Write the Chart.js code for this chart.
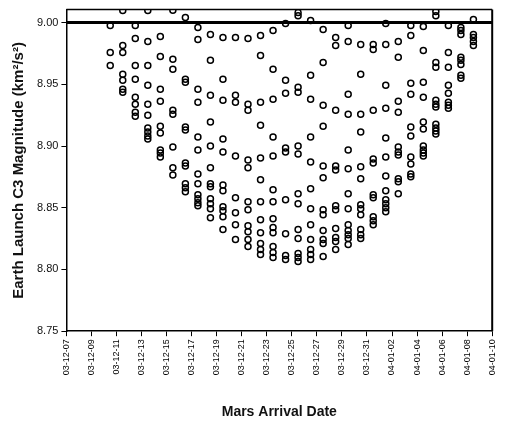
<!DOCTYPE html>
<html>
<head>
<meta charset="utf-8">
<script src="https://cdn.jsdelivr.net/npm/chart.js@4.4.0/dist/chart.umd.min.js"></script>
<style>
  html, body { margin: 0; padding: 0; background: #fff; }
  #wrap { width: 506px; height: 425px; }
</style>
</head>
<body>
<div id="wrap"><canvas id="c3Chart" width="506" height="425"></canvas></div>
<script>
// arrival day, counted in days after 03-12-07 (each column is noon of one day)
let arrivalDays = [3.5, 4.5, 5.5, 6.5, 7.5, 8.5, 9.5, 10.5, 11.5, 12.5,
                   13.5, 14.5, 15.5, 16.5, 17.5, 18.5, 19.5, 20.5, 21.5, 22.5,
                   23.5, 24.5, 25.5, 26.5, 27.5, 28.5, 29.5, 30.5, 31.5, 32.5];

// launch C3 (km^2/s^2) for every launch date that reaches Mars on that day
let c3Values = [
  [8.9976, 8.9758, 8.9653],
  [9.0097, 8.9815, 8.9758, 8.9581, 8.9532, 8.9460, 8.9435],
  [8.9976, 8.9871, 8.9653, 8.9540, 8.9395, 8.9339, 8.9274, 8.9242],
  [9.0097, 8.9847, 8.9653, 8.9492, 8.9339, 8.9250, 8.9145, 8.9113, 8.9081, 8.9056],
  [8.9887, 8.9726, 8.9460, 8.9363, 8.9161, 8.9105, 8.8968, 8.8944, 8.8911],
  [9.0100, 8.9702, 8.9621, 8.9290, 8.9258, 8.8992, 8.8823, 8.8766],
  [9.0040, 8.9540, 8.9516, 8.9153, 8.9129, 8.8863, 8.8839, 8.8694, 8.8661, 8.8629],
  [8.9960, 8.9863, 8.9460, 8.9355, 8.9073, 8.8968, 8.8774, 8.8694, 8.8605, 8.8573, 8.8540, 8.8516],
  [8.9903, 8.9694, 8.9411, 8.9194, 8.9000, 8.8823, 8.8694, 8.8669, 8.8573, 8.8532, 8.8492, 8.8419],
  [8.9879, 8.9540, 8.9371, 8.9056, 8.8952, 8.8685, 8.8637, 8.8508, 8.8476, 8.8427, 8.8323],
  [8.9879, 8.9411, 8.9355, 8.8919, 8.8581, 8.8460, 8.8363, 8.8242],
  [8.9871, 8.9339, 8.9290, 8.8887, 8.8823, 8.8548, 8.8484, 8.8355, 8.8306, 8.8242, 8.8185],
  [8.9895, 8.9734, 8.9355, 8.9169, 8.8903, 8.8726, 8.8548, 8.8403, 8.8298, 8.8210, 8.8161, 8.8121],
  [8.9935, 8.9621, 8.9379, 8.9073, 8.8919, 8.8645, 8.8548, 8.8411, 8.8339, 8.8298, 8.8185, 8.8137, 8.8097],
  [8.9992, 8.9532, 8.9427, 8.8984, 8.8952, 8.8565, 8.8290, 8.8113, 8.8081],
  [9.0081, 9.0056, 8.9476, 8.9435, 8.9000, 8.8935, 8.8613, 8.8532, 8.8323, 8.8250, 8.8129, 8.8097, 8.8065],
  [9.0016, 8.9573, 8.9379, 8.9073, 8.8871, 8.8653, 8.8492, 8.8363, 8.8242, 8.8161, 8.8121, 8.8081],
  [8.9944, 8.9677, 8.9331, 8.9161, 8.8839, 8.8742, 8.8484, 8.8444, 8.8315, 8.8242, 8.8210, 8.8105],
  [8.9879, 8.9815, 8.9290, 8.8839, 8.8806, 8.8516, 8.8484, 8.8331, 8.8258, 8.8226, 8.8161],
  [8.9976, 8.9847, 8.9419, 8.9258, 8.8968, 8.8815, 8.8613, 8.8492, 8.8363, 8.8315, 8.8282, 8.8250, 8.8202],
  [8.9823, 8.9581, 8.9258, 8.9113, 8.8831, 8.8734, 8.8524, 8.8492, 8.8444, 8.8323, 8.8282, 8.8250],
  [8.9823, 8.9782, 8.9290, 8.8895, 8.8863, 8.8605, 8.8581, 8.8427, 8.8395, 8.8363],
  [8.9992, 8.9823, 8.9492, 8.9306, 8.9065, 8.8911, 8.8758, 8.8637, 8.8565, 8.8532, 8.8500, 8.8468],
  [8.9847, 8.9718, 8.9363, 8.9274, 8.8992, 8.8952, 8.8927, 8.8734, 8.8710, 8.8613],
  [8.9976, 8.9895, 8.9508, 8.9419, 8.9153, 8.9081, 8.8911, 8.8855, 8.8774, 8.8750],
  [8.9968, 8.9774, 8.9516, 8.9395, 8.9194, 8.9137, 8.9000, 8.8968, 8.8944, 8.8919],
  [9.0089, 9.0056, 8.9677, 8.9637, 8.9371, 8.9339, 8.9315, 8.9177, 8.9145, 8.9121, 8.9097],
  [8.9976, 8.9758, 8.9637, 8.9492, 8.9427, 8.9355, 8.9331, 8.9306],
  [8.9960, 8.9935, 8.9903, 8.9718, 8.9694, 8.9661, 8.9573, 8.9548],
  [9.0024, 8.9903, 8.9879, 8.9847, 8.9815]
];

let dateTicks = ['03-12-07', '03-12-09', '03-12-11', '03-12-13', '03-12-15', '03-12-17',
                 '03-12-19', '03-12-21', '03-12-23', '03-12-25', '03-12-27', '03-12-29',
                 '03-12-31', '04-01-02', '04-01-04', '04-01-06', '04-01-08', '04-01-10'];

let c3Limit = 9.00;

let points = [];
arrivalDays.forEach((d, i) => {
  c3Values[i].forEach(v => points.push({ x: d, y: v }));
});

let fontFamily = "'Liberation Sans', Arial, Helvetica, sans-serif";

// top and right edges of the plot box
let frameBox = {
  id: 'frameBox',
  afterDraw(chart) {
    let a = chart.chartArea, c = chart.ctx;
    c.save();
    c.strokeStyle = '#000';
    c.lineWidth = 1.5;
    c.beginPath();
    c.moveTo(a.left, a.top);
    c.lineTo(a.right, a.top);
    c.stroke();
    c.lineWidth = 2;
    c.beginPath();
    c.moveTo(a.right, a.top);
    c.lineTo(a.right, a.bottom);
    c.stroke();
    c.restore();
  }
};

let ctx = document.getElementById('c3Chart').getContext('2d');
let chart = new Chart(ctx, {
  type: 'scatter',
  data: {
    datasets: [{
      data: points,
      pointStyle: 'circle',
      pointRadius: 3,
      borderWidth: 1.5,
      borderColor: '#000',
      backgroundColor: 'rgba(0,0,0,0)'
    }, {
      type: 'line',
      data: [{ x: 0, y: c3Limit }, { x: 34, y: c3Limit }],
      borderColor: '#000',
      borderWidth: 3,
      pointRadius: 0
    }]
  },
  options: {
    responsive: false,
    animation: false,
    devicePixelRatio: 1,
    layout: { padding: { left: 10, right: 2, top: 1, bottom: 4 } },
    plugins: {
      legend: { display: false },
      tooltip: { enabled: false }
    },
    scales: {
      x: {
        type: 'linear',
        min: 0,
        max: 34,
        ticks: {
          stepSize: 2,
          autoSkip: false,
          minRotation: 90,
          maxRotation: 90,
          padding: 3,
          color: '#000',
          font: { family: fontFamily, size: 9 },
          callback: v => dateTicks[Math.round(v / 2)]
        },
        grid: { drawOnChartArea: false, tickLength: 5, color: '#000' },
        border: { color: '#000', width: 1.5 },
        title: {
          display: true,
          text: 'Mars Arrival Date',
          color: '#111',
          font: { family: fontFamily, size: 14, weight: 'bold' },
          padding: { top: 26, bottom: 0 }
        }
      },
      y: {
        min: 8.75,
        max: 9.0105,
        ticks: {
          stepSize: 0.05,
          includeBounds: false,
          padding: 3,
          color: '#111',
          font: { family: fontFamily, size: 11 },
          callback: v => v.toFixed(2)
        },
        grid: { drawOnChartArea: false, tickLength: 5, color: '#000' },
        border: { color: '#000', width: 1.5 },
        title: {
          display: true,
          text: 'Earth Launch C3 Magnitude (km²/s²)',
          color: '#111',
          font: { family: fontFamily, size: 15, weight: 'bold' },
          padding: { top: 0, bottom: 6 }
        }
      }
    }
  },
  plugins: [frameBox]
});
</script>
</body>
</html>
